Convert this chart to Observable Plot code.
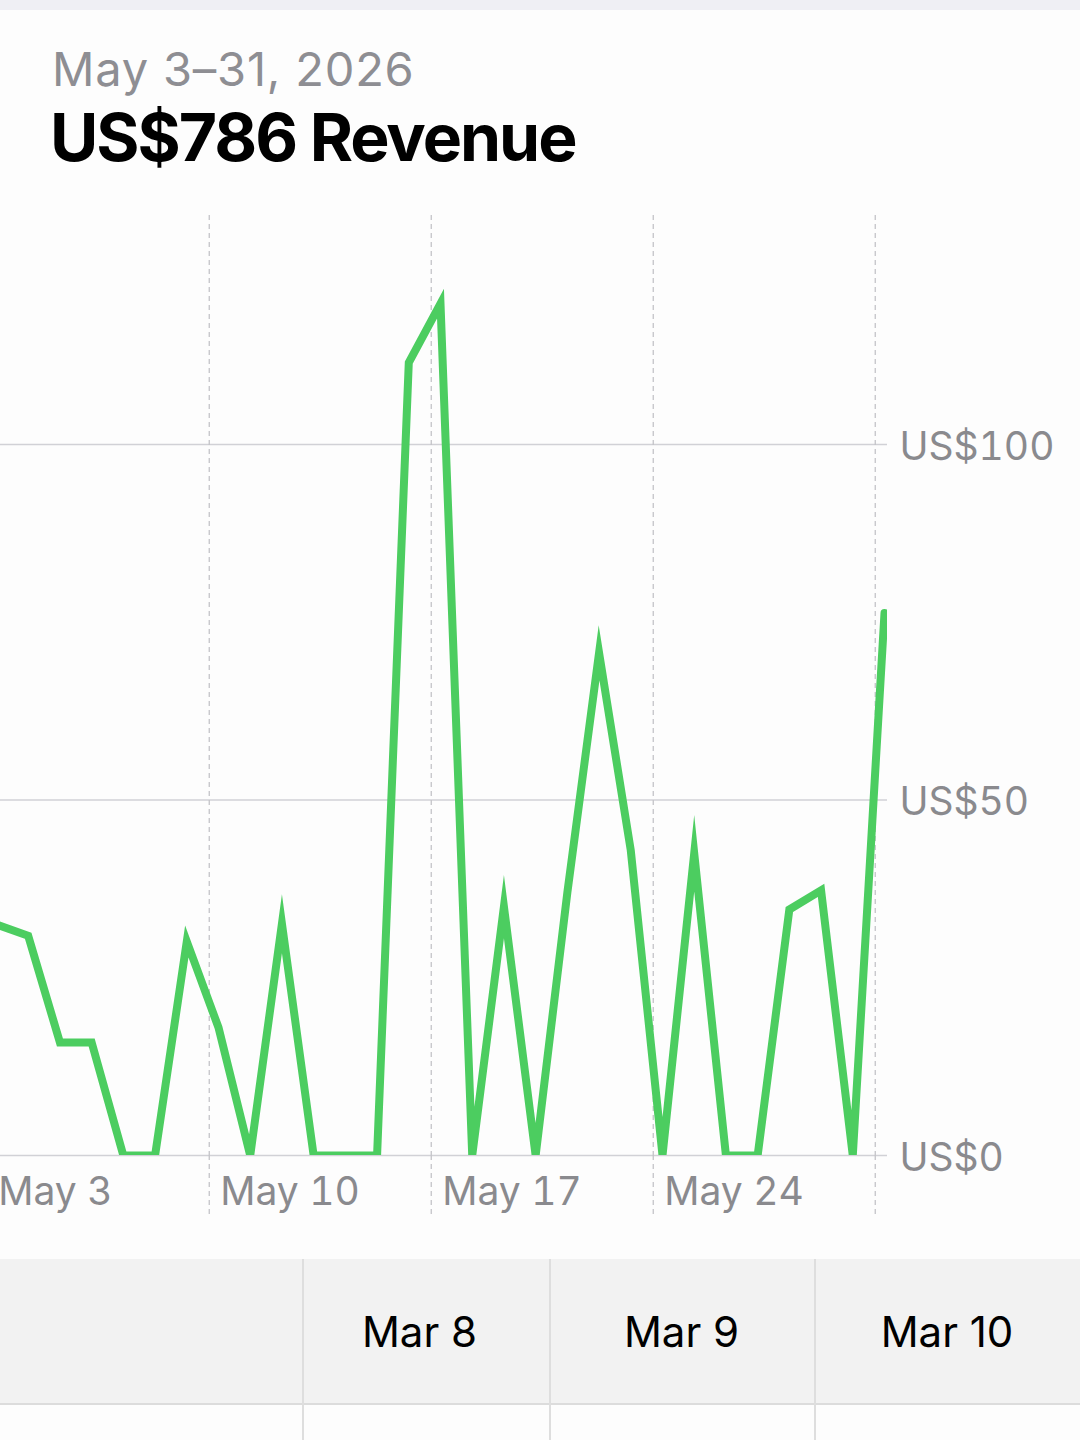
<!DOCTYPE html>
<html><head><meta charset="utf-8">
<script src="https://cdn.jsdelivr.net/npm/d3@7"></script>
<script src="https://cdn.jsdelivr.net/npm/@observablehq/plot@0.6"></script>
<style>
html,body{margin:0;padding:0}
body{width:1080px;height:1440px;overflow:hidden;background:#fdfdfd;font-family:Inter,"Noto Sans",sans-serif;position:relative}
#topbar{position:absolute;left:0;top:0;width:1080px;height:10px;background:#efeff4}
#sub{position:absolute;left:52px;top:45px;font-size:47px;line-height:47px;color:#8e8e93;white-space:nowrap;letter-spacing:0.8px}
#title{position:absolute;left:50px;top:104px;font-size:66px;line-height:67px;font-weight:700;color:#000;white-space:nowrap;letter-spacing:-2px}
#chart{position:absolute;left:0;top:200px;width:1080px}
#band{position:absolute;left:0;top:1259px;width:1080px;height:144px;background:#f2f2f2;border-bottom:2px solid #dcdcdc}
.sep{position:absolute;top:1259px;width:2px;height:181px;background:#dedede}
.col{position:absolute;top:1259px;height:144px;display:flex;align-items:center;justify-content:center;font-size:42px;color:#000}
</style></head><body>
<div id="topbar"></div>
<div id="sub">May 3–31, 2026</div>
<div id="title">US$786 Revenue</div>
<div id="chart"></div>
<div id="band"></div>
<div class="sep" style="left:302px"></div>
<div class="sep" style="left:549px"></div>
<div class="sep" style="left:814px"></div>
<div id="cols"></div>
<script>
// Daily revenue, May 3 – May 31, 2026
const days = [3,4,5,6,7,8,9,10,11,12,13,14,15,16,17,18,19,20,21,22,23,24,25,26,27,28,29,30,31];
const revenue = [32.5,30.9,15.9,15.9,0,0,30.1,18.0,0,32.6,0,0,0,111.5,119.8,0,35.0,0,37.0,70.7,42.9,0,42.5,0,0,34.6,37.3,0,76.3];
const gridDays = [3,10,17,24,31];
const labelDays = [3,10,17,24];
const yTicks = [0,50,100];
const tableHeaders = ["Mar 8","Mar 9","Mar 10"];

const points = days.map((d,i)=>({date:new Date(Date.UTC(2026,4,d,7)), value:revenue[i]}));
const gridDates = gridDays.map(d=>new Date(Date.UTC(2026,4,d)));
const labelDates = labelDays.map(d=>new Date(Date.UTC(2026,4,d)));

const chart = Plot.plot({
  width:1080, height:1058,
  marginTop:15, marginBottom:103, marginLeft:0, marginRight:193,
  style:{fontFamily:"Inter, 'Noto Sans', sans-serif", fontSize:"39px", background:"transparent", overflow:"visible"},
  x:{type:"utc", domain:[points[0].date, points[points.length-1].date], range:[-4,884], label:null},
  y:{domain:[0,132.2], label:null},
  marks:[
    Plot.gridY(yTicks, {stroke:"#d1d1d6", strokeOpacity:1, strokeWidth:1.5}),
    Plot.gridX(gridDates, {stroke:"#c4c4c8", strokeOpacity:1, strokeWidth:1.3, strokeDasharray:"5 4"}),
    Plot.axisX(gridDates, {tickSize:63, tickFormat:()=>"", stroke:"#c4c4c8", strokeOpacity:1, strokeWidth:1.3, strokeDasharray:"5 4"}),
    Plot.axisX(labelDates, {tickSize:0, tickPadding:22, textAnchor:"start", dx:11, fill:"#8a8a8e", tickFormat:d3.utcFormat("%b %-d")}),
    Plot.axisY(yTicks, {anchor:"right", tickSize:0, tickPadding:12, dy:3, fill:"#8a8a8e", tickFormat:d=>"US$"+d}),
    Plot.lineY(points, {x:"date", y:"value", stroke:"#4ccd60", strokeWidth:8, strokeLinejoin:"miter", strokeMiterlimit:10, clip:"frame"})
  ]
});
document.getElementById("chart").appendChild(chart);

const colEdges = [[290,549],[549,814],[814,1080]];
const cols = document.getElementById("cols");
tableHeaders.forEach((t,i)=>{
  const el = document.createElement("div");
  el.className="col";
  el.style.left = colEdges[i][0]+"px";
  el.style.width = (colEdges[i][1]-colEdges[i][0])+"px";
  el.textContent = t;
  cols.appendChild(el);
});
</script>
</body></html>
